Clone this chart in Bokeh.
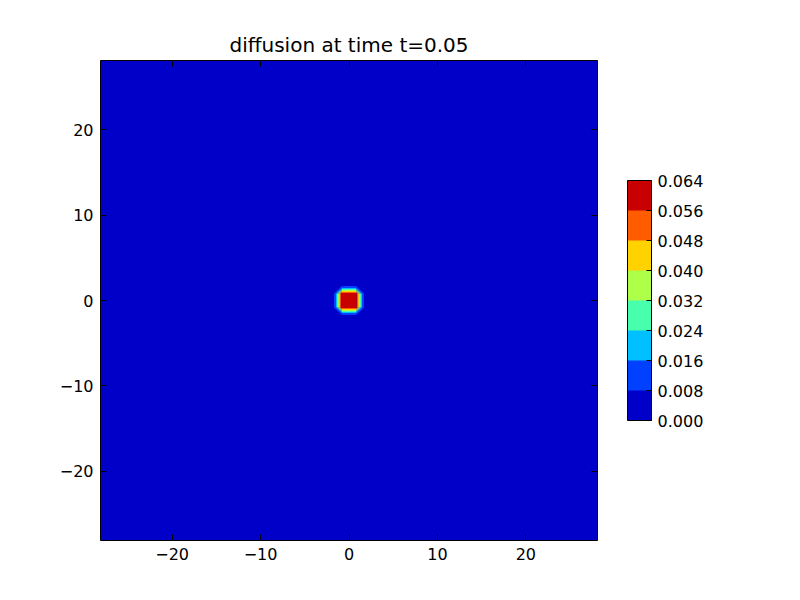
import numpy as np
from bokeh.plotting import figure
from bokeh.models import (ColorBar, LinearColorMapper, FixedTicker, PrintfTickFormatter,
                          LinearAxis, Range1d)
from bokeh.embed import file_html
from bokeh.resources import INLINE

title = "diffusion at time t=0.05"
extent = 28.1          # half width of the square domain
n_points = 73          # grid points per side
levels = [0.000, 0.008, 0.016, 0.024, 0.032, 0.040, 0.048, 0.056, 0.064]
jet_colors = ["#0000c8", "#0040ff", "#00c0ff", "#48ffae",
              "#aeff48", "#ffd200", "#ff5c00", "#c80000"]
axis_ticks = [-20, -10, 0, 10, 20]
axis_labels = ["\u221220", "\u221210", "0", "10", "20"]

# field values on the 5x5 grid points round the origin, zero everywhere else
blob = [
    [0.002, 0.0097, 0.0097, 0.0097, 0.002],
    [0.0097, 0.0635, 0.0635, 0.0635, 0.0097],
    [0.0097, 0.0635, 0.0635, 0.0635, 0.0097],
    [0.0097, 0.0635, 0.0635, 0.0635, 0.0097],
    [0.002, 0.0097, 0.0097, 0.0097, 0.002],
]

x = np.linspace(-extent, extent, n_points)
y = np.linspace(-extent, extent, n_points)
z = np.zeros((n_points, n_points))
c = n_points // 2
z[c - 2:c + 3, c - 2:c + 3] = np.array(blob)

FONT = "DejaVu Sans"

p = figure(width=784, height=584, title=title,
           x_range=Range1d(-extent, extent), y_range=Range1d(-extent, extent),
           output_backend="svg", toolbar_location=None,
           min_border_left=100, min_border_right=187,
           min_border_top=60, min_border_bottom=44)
p.background_fill_color = jet_colors[0]
p.border_fill_color = "white"
p.outline_line_color = "black"
p.outline_line_width = 1
p.grid.visible = False

p.title.align = "center"
p.title.text_font = FONT
p.title.text_font_size = "20px"
p.title.text_font_style = "normal"
p.title.text_color = "black"
p.title.standoff = 7

p.contour(x, y, z, levels, fill_color=jet_colors, line_color=None)

# ticks on all four sides, pointing inwards
p.add_layout(LinearAxis(), "right")
p.add_layout(LinearAxis(), "above")
for ax in p.axis:
    ax.ticker = FixedTicker(ticks=axis_ticks)
    ax.major_label_overrides = dict(zip(axis_ticks, axis_labels))
    ax.major_tick_in = 6
    ax.major_tick_out = 0
    ax.major_tick_line_color = "black"
    ax.minor_tick_line_color = None
    ax.axis_line_color = None
    ax.major_label_text_font = FONT
    ax.major_label_text_font_size = "16px"
    ax.major_label_text_color = "black"
    ax.major_label_standoff = 7
for ax in p.right + p.above:
    if isinstance(ax, LinearAxis):
        ax.major_label_text_color = None
        ax.major_label_standoff = 0

mapper = LinearColorMapper(palette=jet_colors, low=levels[0], high=levels[-1])
bar = ColorBar(color_mapper=mapper, ticker=FixedTicker(ticks=levels),
               formatter=PrintfTickFormatter(format="%.3f"),
               orientation="vertical", location="center_left",
               width=24, height=240, margin=0, padding=30,
               bar_line_color="black", bar_line_width=1,
               major_tick_line_color="black", major_tick_in=5, major_tick_out=0,
               minor_tick_line_color=None,
               label_standoff=6,
               major_label_text_font=FONT, major_label_text_font_size="16px",
               major_label_text_color="black",
               background_fill_alpha=0, border_line_color=None)
p.add_layout(bar, "right")

open("out.html", "w").write(file_html(p, INLINE))
